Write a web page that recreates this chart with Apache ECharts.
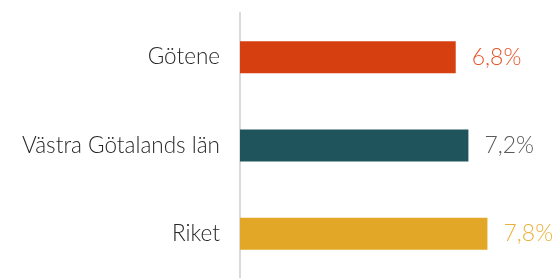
<!DOCTYPE html>
<html><head><meta charset="utf-8">
<script src="https://cdn.jsdelivr.net/npm/echarts@6/dist/echarts.min.js"></script>
<style>html,body{margin:0;padding:0;background:#fff}#c{width:555px;height:278px}</style>
</head><body><div id="c"></div>
<script>
const categories = ["Götene", "Västra Götalands län", "Riket"];
const values = [6.8, 7.2, 7.8];
const barColors = ["#d63f0f", "#1f545d", "#e2a727"];
const labelColors = ["#e4552c", "#595959", "#eab13c"];

const chart = echarts.init(document.getElementById('c'), null, {renderer: 'canvas'});
chart.setOption({
  animation: false,
  grid: {left: 240, width: 285.5, top: 13, bottom: -5, containLabel: false},
  xAxis: {type: 'value', min: 0, max: 9, show: false},
  yAxis: {
    type: 'category', data: categories, inverse: true,
    axisLine: {show: true, lineStyle: {color: '#d9d9d9', width: 2}},
    axisTick: {show: false},
    axisLabel: {margin: 20, fontFamily: 'Lato', fontWeight: 300, fontSize: 22.5, color: '#262626'}
  },
  series: [{
    type: 'bar', barWidth: 32,
    data: values.map((v, i) => ({value: v, itemStyle: {color: barColors[i]},
      label: {color: labelColors[i]}})),
    label: {show: true, position: 'right', distance: 16, fontFamily: 'Lato', fontWeight: 300, fontSize: 23,
      formatter: p => p.value.toFixed(1).replace('.', ',') + '%'}
  }]
});
</script></body></html>
